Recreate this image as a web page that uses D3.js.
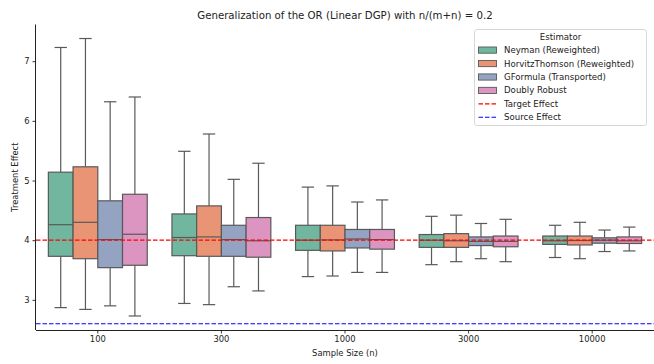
<!DOCTYPE html>
<html>
<head>
<meta charset="utf-8">
<script src="https://cdn.jsdelivr.net/npm/d3@7"></script>
<style>
  body { margin: 0; background: #fff; }
  text { font-family: "DejaVu Sans", sans-serif; fill: #222; }
</style>
</head>
<body>
<svg id="chart"></svg>
<script>
// sample sizes on the x axis
var sampleSizes = ["100", "300", "1000", "3000", "10000"];
var estimators = ["Neyman (Reweighted)", "HorvitzThomson (Reweighted)", "GFormula (Transported)", "Doubly Robust"];
var colors = ["#71b7a0", "#e99575", "#95a3c3", "#db95c0"];

// each row: [whisker low, q1, median, q3, whisker high], one per sample size
var neyman = [[2.87, 3.73, 4.26, 5.14, 7.23], [2.94, 3.74, 4.045, 4.44, 5.49], [3.39, 3.83, 4.0, 4.25, 4.89], [3.59, 3.88, 4.0, 4.095, 4.40], [3.71, 3.93, 3.99, 4.07, 4.25]];
var horvitz = [[2.84, 3.69, 4.30, 5.23, 7.38], [2.92, 3.73, 4.055, 4.575, 5.78], [3.40, 3.82, 4.005, 4.25, 4.91], [3.64, 3.88, 3.99, 4.11, 4.42], [3.69, 3.92, 3.995, 4.07, 4.30]];
var gformula = [[2.90, 3.54, 4.01, 4.66, 6.32], [3.22, 3.73, 4.01, 4.25, 5.02], [3.46, 3.87, 4.02, 4.18, 4.64], [3.69, 3.91, 3.98, 4.055, 4.28], [3.81, 3.95, 4.0, 4.04, 4.17]];
var doubly = [[2.73, 3.58, 4.10, 4.77, 6.40], [3.15, 3.715, 3.99, 4.38, 5.29], [3.46, 3.85, 4.01, 4.18, 4.675], [3.64, 3.89, 3.98, 4.07, 4.35], [3.82, 3.945, 3.99, 4.055, 4.22]];

var targetEffect = 4.0;
var sourceEffect = 2.6;
var yTicks = [3, 4, 5, 6, 7];

var width = 654;
var height = 364;
var margin = {top: 24.5, right: 0, bottom: 34, left: 36};
var lineColor = "#595959";

var svg = d3.select("#chart")
            .attr("width", width)
            .attr("height", height);

var x = d3.scaleBand()
          .domain(sampleSizes)
          .range([margin.left, width - margin.right])
          .padding(0);

var xInner = d3.scaleBand()
               .domain(estimators)
               .range([x.bandwidth() * 0.1, x.bandwidth() * 0.9])
               .padding(0);

var y = d3.scaleLinear()
          .domain([2.495, 7.615])
          .range([height - margin.bottom, margin.top]);

// axes
var yAxis = svg.append("g")
               .attr("transform", "translate(" + margin.left + ",0)")
               .call(d3.axisLeft(y).tickValues(yTicks).tickFormat(d3.format("d")).tickSize(3.5).tickPadding(3));
var xAxis = svg.append("g")
               .attr("transform", "translate(0," + (height - margin.bottom) + ")")
               .call(d3.axisBottom(x).tickSize(3.5).tickPadding(2.5));

[xAxis, yAxis].forEach(function(g) {
  g.selectAll("path.domain").attr("stroke", "#222").attr("stroke-width", 1);
  g.selectAll(".tick line").attr("stroke", "#222").attr("stroke-width", 0.9);
  g.selectAll(".tick text").style("font-size", "8.4px").style("font-family", "DejaVu Sans").attr("fill", "#222");
});
xAxis.select("path.domain").attr("d", "M" + margin.left + ",0.5H" + width);
yAxis.select("path.domain").attr("d", "M-0.5," + margin.top + "V" + (height - margin.bottom));

// boxes
var allData = [neyman, horvitz, gformula, doubly];
var boxes = [];
allData.forEach(function(series, si) {
  series.forEach(function(s, i) {
    boxes.push({est: estimators[si], color: colors[si], size: sampleSizes[i],
                lo: s[0], q1: s[1], med: s[2], q3: s[3], hi: s[4]});
  });
});

var g = svg.append("g");
var bw = xInner.bandwidth();

var box = g.selectAll("g.box")
           .data(boxes)
           .enter()
           .append("g")
           .attr("class", "box")
           .attr("transform", function(d) { return "translate(" + (x(d.size) + xInner(d.est)) + ",0)"; });

// whiskers
box.append("line")
   .attr("x1", bw / 2).attr("x2", bw / 2)
   .attr("y1", function(d) { return y(d.hi); })
   .attr("y2", function(d) { return y(d.q3); })
   .attr("stroke", lineColor).attr("stroke-width", 1.2);
box.append("line")
   .attr("x1", bw / 2).attr("x2", bw / 2)
   .attr("y1", function(d) { return y(d.q1); })
   .attr("y2", function(d) { return y(d.lo); })
   .attr("stroke", lineColor).attr("stroke-width", 1.2);
// caps
box.selectAll("line.cap")
   .data(function(d) { return [d.lo, d.hi]; })
   .enter()
   .append("line")
   .attr("class", "cap")
   .attr("x1", bw / 4).attr("x2", bw * 3 / 4)
   .attr("y1", function(v) { return y(v); })
   .attr("y2", function(v) { return y(v); })
   .attr("stroke", lineColor).attr("stroke-width", 1.2);

box.append("rect")
   .attr("x", 0)
   .attr("width", bw)
   .attr("y", function(d) { return y(d.q3); })
   .attr("height", function(d) { return y(d.q1) - y(d.q3); })
   .attr("fill", function(d) { return d.color; })
   .attr("stroke", lineColor)
   .attr("stroke-width", 1.2);

box.append("line")
   .attr("x1", 0).attr("x2", bw)
   .attr("y1", function(d) { return y(d.med); })
   .attr("y2", function(d) { return y(d.med); })
   .attr("stroke", lineColor).attr("stroke-width", 1.2);

// reference lines
svg.append("line")
   .attr("x1", margin.left).attr("x2", width)
   .attr("y1", y(targetEffect)).attr("y2", y(targetEffect))
   .attr("stroke", "red").attr("stroke-width", 1.2)
   .attr("stroke-dasharray", "4.5,2");
svg.append("line")
   .attr("x1", margin.left).attr("x2", width)
   .attr("y1", y(sourceEffect)).attr("y2", y(sourceEffect))
   .attr("stroke", "blue").attr("stroke-width", 1.2)
   .attr("stroke-dasharray", "4.5,2");

// titles
svg.append("text")
   .attr("x", 345).attr("y", 18.5)
   .attr("text-anchor", "middle")
   .style("font-size", "10.2px")
   .text("Generalization of the OR (Linear DGP) with n/(m+n) = 0.2");
svg.append("text")
   .attr("x", 345).attr("y", 355.5)
   .attr("text-anchor", "middle")
   .style("font-size", "8.4px")
   .text("Sample Size (n)");
svg.append("text")
   .attr("transform", "translate(18," + ((margin.top + height - margin.bottom) / 2) + ") rotate(-90)")
   .attr("text-anchor", "middle")
   .style("font-size", "8.4px")
   .text("Treatment Effect");

// legend
var legend = svg.append("g").attr("transform", "translate(474,29)");
legend.append("rect")
      .attr("x", 0.5).attr("y", 0.5)
      .attr("width", 172).attr("height", 96)
      .attr("rx", 2.5)
      .attr("fill", "white").attr("fill-opacity", 0.8)
      .attr("stroke", "#d4d4d4").attr("stroke-width", 0.9);
legend.append("text")
      .attr("x", 86.5).attr("y", 11)
      .attr("text-anchor", "middle")
      .style("font-size", "8.6px")
      .text("Estimator");

var legendItems = estimators.map(function(e, i) { return {label: e, color: colors[i], type: "box"}; })
  .concat([{label: "Target Effect", color: "red", type: "line"},
           {label: "Source Effect", color: "blue", type: "line"}]);

var item = legend.selectAll("g.item")
                 .data(legendItems)
                 .enter()
                 .append("g")
                 .attr("class", "item")
                 .attr("transform", function(d, i) { return "translate(0," + (21 + i * 13.45) + ")"; });

item.filter(function(d) { return d.type == "box"; })
    .append("rect")
    .attr("x", 4.5).attr("y", -3)
    .attr("width", 18).attr("height", 6.2)
    .attr("fill", function(d) { return d.color; })
    .attr("stroke", lineColor).attr("stroke-width", 0.9);
item.filter(function(d) { return d.type == "line"; })
    .append("line")
    .attr("x1", 4.5).attr("x2", 22.5)
    .attr("y1", 0).attr("y2", 0)
    .attr("stroke", function(d) { return d.color; })
    .attr("stroke-width", 1.2)
    .attr("stroke-dasharray", "4.5,2");
item.append("text")
    .attr("x", 30).attr("y", 3.1)
    .style("font-size", "8.6px")
    .text(function(d) { return d.label; });
</script>
</body>
</html>
